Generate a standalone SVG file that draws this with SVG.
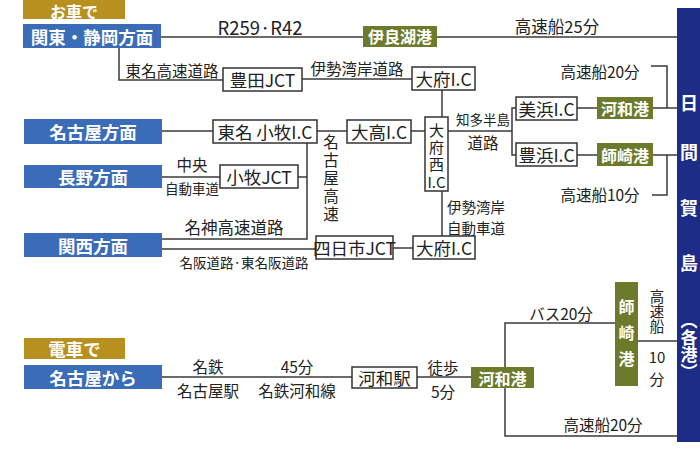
<svg xmlns="http://www.w3.org/2000/svg" width="700" height="450" viewBox="0 0 700 450">
<defs>
<style>
text{font-family:"Noto Sans CJK JP","Noto Sans",sans-serif;dominant-baseline:central;text-anchor:middle;fill:#222}
.vt{writing-mode:vertical-rl}
.blue{fill:#3a6cb8}
.gold{fill:#b8901f}
.olive{fill:#6c7a2b}
.navy{fill:#1d2c86}
.node{fill:#fff;stroke:#333;stroke-width:1.5}
.ln{stroke:#3a3a3a;stroke-width:1.5;fill:none}
.w{fill:#fff;font-weight:bold;font-size:17.5px}
.ws{fill:#fff;font-weight:bold;font-size:16px}
.n{font-size:17.5px}
.nv{font-size:15px}
.lb{font-size:15.5px}
.sm{font-size:13.5px}
.bar{fill:#fff;font-weight:bold;font-size:18px}
</style>
</defs>
<rect width="700" height="450" fill="#fff"/>
<g id="connectors">
<path class="ln" d="M161,37 H677"/>
<path class="ln" d="M119,48 V80 H223"/>
<path class="ln" d="M302,79 H412"/>
<path class="ln" d="M442,90 V117"/>
<path class="ln" d="M442,191 V236"/>
<path class="ln" d="M162,131 H213"/>
<path class="ln" d="M317,131 H347"/>
<path class="ln" d="M411,131 H425"/>
<path class="ln" d="M448,131 H512"/>
<path class="ln" d="M516,108 H512 V155 H516"/>
<path class="ln" d="M577,108 H597"/>
<path class="ln" d="M653,108 H677"/>
<path class="ln" d="M577,155 H597"/>
<path class="ln" d="M653,155 H677"/>
<path class="ln" d="M651,66 H667 V108"/>
<path class="ln" d="M667,155 V195 H652"/>
<path class="ln" d="M162,177 H220"/>
<path class="ln" d="M298,177 H307"/>
<path class="ln" d="M307,143 V239 H162"/>
<path class="ln" d="M162,249 H316"/>
<path class="ln" d="M393,248 H413"/>
<path class="ln" d="M162,377 H352"/>
<path class="ln" d="M417,377 H471"/>
<path class="ln" d="M615,323 H505 V436 H677"/>
<path class="ln" d="M638,341 H677"/>
</g>
<g id="labels">
<text class="lb" x="260" y="27" style="font-size:18.5px">R259·R42</text>
<text class="lb" x="557" y="26" style="font-size:16.5px">高速船25分</text>
<text class="lb" x="172" y="70">東名高速道路</text>
<text class="lb" x="357" y="68">伊勢湾岸道路</text>
<text class="lb" x="600" y="71">高速船20分</text>
<text class="lb" x="600" y="194">高速船10分</text>
<text class="sm" x="483" y="119">知多半島</text>
<text class="lb" x="483" y="142">道路</text>
<text class="lb" x="476" y="206" style="font-size:14.5px">伊勢湾岸</text>
<text class="lb" x="476" y="227" style="font-size:14.5px">自動車道</text>
<text class="lb" x="192" y="164">中央</text>
<text class="sm" x="192" y="188">自動車道</text>
<text class="lb" x="234" y="227" style="font-size:16.5px">名神高速道路</text>
<text class="sm" x="244" y="262">名阪道路·東名阪道路</text>
<text class="lb vt" x="331" y="179" style="letter-spacing:2.5px">名古屋高速</text>
<text class="lb" x="208" y="366">名鉄</text>
<text class="lb" x="208" y="390">名古屋駅</text>
<text class="lb" x="297" y="366">45分</text>
<text class="lb" x="297" y="390">名鉄河和線</text>
<text class="lb" x="443" y="367">徒歩</text>
<text class="lb" x="443" y="391">5分</text>
<text class="lb" x="561" y="313">バス20分</text>
<text class="lb" x="603" y="424">高速船20分</text>
<text class="lb vt" x="657" y="312" style="font-size:14.5px;letter-spacing:0.5px">高速船</text>
<text class="lb" x="657" y="356" style="font-size:15px">10</text>
<text class="lb" x="657" y="378" style="font-size:15px">分</text>
</g>
<g id="car-label"><rect class="gold" x="23" y="0" width="102" height="19"/><text class="w" x="74" y="10.5" style="font-size:16px">お車で</text></g>
<g id="kanto"><rect class="blue" x="23" y="24" width="138" height="24"/><text class="w" x="92" y="36">関東・静岡方面</text></g>
<g id="irago-port"><rect class="olive" x="363" y="26" width="74" height="21"/><text class="ws" x="400" y="36">伊良湖港</text></g>
<g id="toyota-jct"><rect class="node" x="223" y="68" width="79" height="23"/><text class="n" x="262.5" y="79.5">豊田JCT</text></g>
<g id="obu-ic-top"><rect class="node" x="412" y="67" width="63" height="23"/><text class="n" x="443.5" y="78.5">大府I.C</text></g>
<g id="obu-nishi-ic"><rect class="node" x="425" y="117" width="23" height="74"/><text class="nv vt" x="436.5" y="148" style="letter-spacing:2px">大府西</text><text class="nv" x="436.5" y="181">I.C</text></g>
<g id="mihama-ic"><rect class="node" x="516" y="97" width="61" height="23"/><text class="n" x="546.5" y="108.5">美浜I.C</text></g>
<g id="toyohama-ic"><rect class="node" x="516" y="143" width="61" height="23"/><text class="n" x="546.5" y="154.5">豊浜I.C</text></g>
<g id="kowa-port-car"><rect class="olive" x="597" y="97" width="56" height="22"/><text class="ws" x="625" y="108">河和港</text></g>
<g id="morozaki-port-car"><rect class="olive" x="597" y="143" width="56" height="23"/><text class="ws" x="625" y="154.5">師崎港</text></g>
<g id="nagoya"><rect class="blue" x="24" y="119" width="138" height="25"/><text class="w" x="93" y="131.5">名古屋方面</text></g>
<g id="tomei-komaki-ic"><rect class="node" x="213" y="120" width="104" height="23"/><text class="n" x="265" y="131.5">東名 小牧I.C</text></g>
<g id="odaka-ic"><rect class="node" x="347" y="120" width="64" height="23"/><text class="n" x="379" y="131.5">大高I.C</text></g>
<g id="nagano"><rect class="blue" x="24" y="165" width="138" height="23"/><text class="w" x="93" y="176.5">長野方面</text></g>
<g id="komaki-jct"><rect class="node" x="220" y="165" width="78" height="23"/><text class="n" x="259" y="176.5">小牧JCT</text></g>
<g id="kansai"><rect class="blue" x="24" y="233" width="138" height="24"/><text class="w" x="93" y="245">関西方面</text></g>
<g id="yokkaichi-jct"><rect class="node" x="316" y="236" width="77" height="23"/><text class="n" x="354.5" y="247.5">四日市JCT</text></g>
<g id="obu-ic-bottom"><rect class="node" x="413" y="236" width="62" height="23"/><text class="n" x="444" y="247.5">大府I.C</text></g>
<g id="train-label"><rect class="gold" x="24" y="338" width="101" height="21"/><text class="w" x="74.5" y="348.5">電車で</text></g>
<g id="nagoya-from"><rect class="blue" x="24" y="365" width="138" height="24"/><text class="w" x="93" y="377">名古屋から</text></g>
<g id="kowa-station"><rect class="node" x="352" y="367" width="65" height="21"/><text class="n" x="384.5" y="377.5">河和駅</text></g>
<g id="kowa-port-train"><rect class="olive" x="471" y="367" width="63" height="21"/><text class="ws" x="502.5" y="377.5">河和港</text></g>
<g id="morozaki-port-train"><rect class="olive" x="615" y="282" width="23" height="104"/><text class="ws vt" x="626.5" y="338" style="letter-spacing:10px">師崎港</text></g>
<g id="himakajima"><rect class="navy" x="677" y="8" width="25" height="434"/>
<text class="bar" x="689" y="102">日</text>
<text class="bar" x="689" y="151">間</text>
<text class="bar" x="689" y="207">賀</text>
<text class="bar" x="689" y="262">島</text>
<text class="bar vt" x="689" y="346" style="font-size:17px">（各港）</text>
</g>
</svg>
